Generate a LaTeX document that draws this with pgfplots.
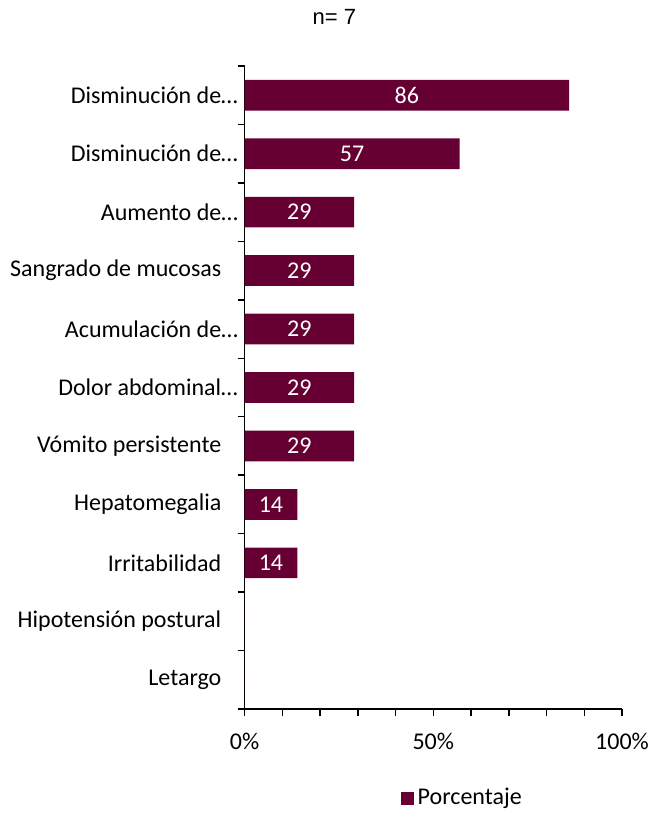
\documentclass[border=0pt]{standalone}
\usepackage{pgfplots}
\pgfplotsset{compat=1.18}
\usepackage{pgfplotstable}
\usepackage{fontspec}
\setmainfont{Carlito}
\newfontfamily\arialf{Liberation Sans}
\definecolor{barc}{HTML}{660033}

\pgfplotstableread{
y v
10 86
9 57
8 29
7 29
6 29
5 29
4 29
3 14
2 14
1 0
0 0
}\data

\newcommand\ellip{\makebox[0pt][l]{…}}

\begin{document}
\fontsize{24bp}{28bp}\selectfont
\begin{tikzpicture}
\begin{axis}[
  scale only axis, width=377.5bp, height=643bp,
  xmin=0, xmax=100, ymin=-0.5, ymax=10.5,
  axis x line*=bottom, axis y line*=left,
  axis line style={line width=1.5bp, black, -},
  clip=false,
  /pgf/number format/assume math mode=true,
  xtick={0,10,...,100},
  xticklabels={0\%,,,,,50\%,,,,,100\%},
  ytick={-0.5,0.5,...,10.5},
  y tick label as interval,
  yticklabels={Letargo, Hipotensión postural, Irritabilidad, Hepatomegalia, Vómito persistente, Dolor abdominal\ellip, Acumulación de\ellip, Sangrado de mucosas, Aumento de\ellip, Disminución de\ellip, Disminución de\ellip},
  tick align=outside,
  major tick length=7bp,
  tick style={line width=1.5bp, black},
  yticklabel style={anchor=east, inner sep=0pt, xshift=-16bp},
  xticklabel style={anchor=base, inner sep=0pt, yshift=-33bp},
  legend style={draw=none, fill=none, at={(0.4146,-0.1384)}, anchor=west, inner sep=0pt, nodes={inner sep=3.5bp}},
  legend image code/.code={\fill[barc] (0bp,-6.5bp) rectangle (13bp,6.5bp);},
]
\addplot[xbar, bar width=30.7bp, bar shift=0pt, fill=barc, draw=none] table[x=v, y=y] {\data};
\addlegendentry{Porcentaje}
\addplot[forget plot, draw=none, mark=none, nodes near coords, point meta=explicit,
  x filter/.expression={x==0 ? nan : x},
  nodes near coords style={anchor=center, text=white, inner sep=0pt}]
  table[x expr=\thisrow{v}/2, y=y, meta=v] {\data};
\node[font=\arialf\fontsize{22bp}{26bp}\selectfont] at (rel axis cs:0.238,1.077) {n= 7};
\path (rel axis cs:-0.6477,-0.1617) rectangle (rel axis cs:1.0848,1.1026);
\end{axis}
\end{tikzpicture}
\end{document}
